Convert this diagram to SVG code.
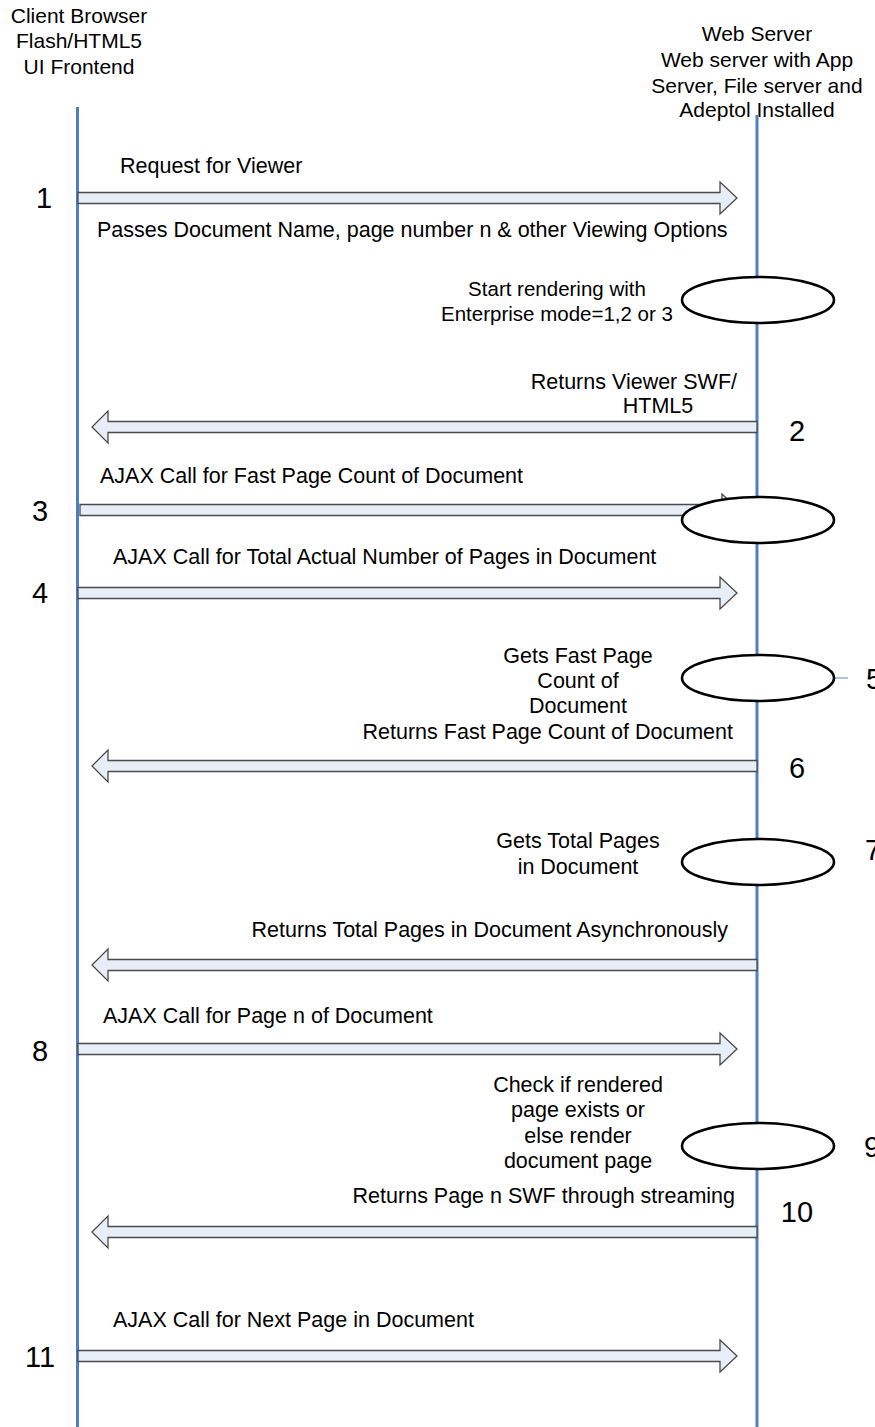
<svg xmlns="http://www.w3.org/2000/svg" xmlns:xlink="http://www.w3.org/1999/xlink" width="875" height="1427" viewBox="0 0 875 1427">
<style>
text{font-family:"Liberation Sans",Arial,sans-serif;fill:#000}
.lbl{font-size:21.5px}
.sm{font-size:20.5px}
.hdr{font-size:21px;text-anchor:middle}
.num{font-size:29px}
.mid{text-anchor:middle}
.end{text-anchor:end}
.life{stroke:#4F7EC8;stroke-width:3;fill:none}
.arrow{fill:#E8EEF8;stroke:#4A4A4A;stroke-width:1.3;stroke-linejoin:miter}
.proc{fill:#fff;stroke:#000;stroke-width:2.6}
</style>
<defs>
<path id="ra" d="M0,-5.5 H642 V-16 L659,0 L642,16 V5.5 H0 Z"/>
<path id="la" d="M0,-5.5 H-649 V-16 L-665,0 L-649,16 V5.5 H0 Z"/>
</defs>
<g id="client">
<text class="hdr" x="79" y="23">Client Browser</text>
<text class="hdr" x="79" y="48">Flash/HTML5</text>
<text class="hdr" x="79" y="74">UI Frontend</text>
<line class="life" x1="77.5" y1="107" x2="77.5" y2="1427"/>
</g>
<g id="server">
<text class="hdr" x="757" y="41">Web Server</text>
<text class="hdr" x="757" y="67">Web server with App</text>
<text class="hdr" x="757" y="93">Server, File server and</text>
<text class="hdr" x="757" y="117">Adeptol Installed</text>
<line class="life" x1="757" y1="115" x2="757" y2="1427"/>
</g>
<g id="connectors">
<use xlink:href="#ra" class="arrow" transform="translate(78,198)"/>
<use xlink:href="#la" class="arrow" transform="translate(757,427)"/>
<use xlink:href="#ra" class="arrow" transform="translate(80,510)"/>
<use xlink:href="#ra" class="arrow" transform="translate(78,593)"/>
<use xlink:href="#la" class="arrow" transform="translate(757,766)"/>
<use xlink:href="#la" class="arrow" transform="translate(757,965)"/>
<use xlink:href="#ra" class="arrow" transform="translate(78,1049)"/>
<use xlink:href="#la" class="arrow" transform="translate(757,1232)"/>
<use xlink:href="#ra" class="arrow" transform="translate(78,1356)"/>
<line x1="834" y1="678" x2="848" y2="678" stroke="#8DB3E2" stroke-width="1.5"/>
</g>
<g id="msg1">
<text class="lbl" x="120" y="173">Request for Viewer</text>
<text class="lbl" x="97" y="237">Passes Document Name, page number n &amp; other Viewing Options</text>
<text class="num mid" x="44" y="208">1</text>
</g>
<g id="step-render">
<ellipse class="proc" cx="758" cy="300" rx="76" ry="23"/>
<text class="sm mid" x="557" y="296">Start rendering with</text>
<text class="sm mid" x="557" y="321">Enterprise mode=1,2 or 3</text>
</g>
<g id="msg2">
<text class="lbl end" x="737" y="389">Returns Viewer SWF/</text>
<text class="lbl mid" x="658" y="413">HTML5</text>
<text class="num mid" x="797" y="441">2</text>
</g>
<g id="msg3">
<text class="lbl" x="100" y="483">AJAX Call for Fast Page Count of Document</text>
<text class="num mid" x="40" y="521">3</text>
<ellipse class="proc" cx="758" cy="520" rx="76" ry="23"/>
</g>
<g id="msg4">
<text class="lbl" x="113" y="564">AJAX Call for Total Actual Number of Pages in Document</text>
<text class="num mid" x="40" y="603">4</text>
</g>
<g id="step5">
<ellipse class="proc" cx="758" cy="678" rx="76" ry="23"/>
<text class="lbl mid" x="578" y="663">Gets Fast Page</text>
<text class="lbl mid" x="578" y="688">Count of</text>
<text class="lbl mid" x="578" y="713">Document</text>
<text class="num" x="866" y="689">5</text>
</g>
<g id="msg6">
<text class="lbl end" x="733" y="739">Returns Fast Page Count of Document</text>
<text class="num mid" x="797" y="778">6</text>
</g>
<g id="step7">
<ellipse class="proc" cx="758" cy="862" rx="76" ry="23"/>
<text class="lbl mid" x="578" y="848">Gets Total Pages</text>
<text class="lbl mid" x="578" y="874">in Document</text>
<text class="num" x="865" y="860">7</text>
</g>
<g id="msg-total">
<text class="lbl end" x="728" y="937">Returns Total Pages in Document Asynchronously</text>
</g>
<g id="msg8">
<text class="lbl" x="103" y="1023">AJAX Call for Page n of Document</text>
<text class="num mid" x="40" y="1061">8</text>
</g>
<g id="step9">
<ellipse class="proc" cx="758" cy="1146" rx="76" ry="23"/>
<text class="lbl mid" x="578" y="1092">Check if rendered</text>
<text class="lbl mid" x="578" y="1117">page exists or</text>
<text class="lbl mid" x="578" y="1143">else render</text>
<text class="lbl mid" x="578" y="1168">document page</text>
<text class="num" x="864" y="1157">9</text>
</g>
<g id="msg10">
<text class="lbl end" x="735" y="1203">Returns Page n SWF through streaming</text>
<text class="num mid" x="797" y="1222">10</text>
</g>
<g id="msg11">
<text class="lbl" x="113" y="1327">AJAX Call for Next Page in Document</text>
<text class="num mid" x="40" y="1367">11</text>
</g>
</svg>
